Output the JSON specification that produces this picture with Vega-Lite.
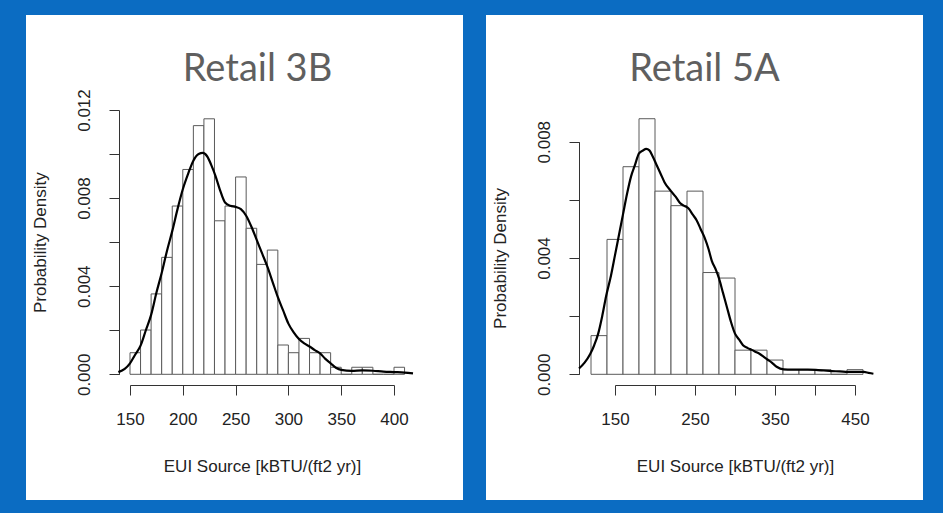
{
  "$schema": "https://vega.github.io/schema/vega-lite/v6.json",
  "background": "#0b6cc2",
  "padding": {"left": 26, "top": 15, "right": 20, "bottom": 13},
  "spacing": 23,
  "config": {
    "view": {"fill": "white", "stroke": null},
    "axis": {
      "grid": false,
      "domainColor": "#333",
      "tickColor": "#333",
      "tickSize": 10,
      "labelFont": "Liberation Sans",
      "labelFontSize": 17,
      "labelColor": "#222",
      "labelFlush": false,
      "labelOverlap": false,
      "titleFont": "Liberation Sans",
      "titleFontSize": 17,
      "titleFontWeight": "normal",
      "titleColor": "#222"
    },
    "title": {"font": "Lato", "fontSize": 38, "fontWeight": "normal", "color": "#5f5f5f", "frame": "group", "anchor": "middle", "baseline": "alphabetic", "offset": -74}
  },
  "hconcat": [
    {
      "width": 437,
      "height": 485,
      "title": {"text": "Retail 3B", "dx": 13},
      "layer": [
        {
          "data": {"values": [
            {"lo": 150, "hi": 160, "density": 0.00098},
            {"lo": 160, "hi": 170, "density": 0.00201},
            {"lo": 170, "hi": 180, "density": 0.00365},
            {"lo": 180, "hi": 190, "density": 0.00531},
            {"lo": 190, "hi": 200, "density": 0.00764},
            {"lo": 200, "hi": 210, "density": 0.0093},
            {"lo": 210, "hi": 220, "density": 0.01129},
            {"lo": 220, "hi": 230, "density": 0.0116},
            {"lo": 230, "hi": 240, "density": 0.00697},
            {"lo": 240, "hi": 250, "density": 0.00764},
            {"lo": 250, "hi": 260, "density": 0.00896},
            {"lo": 260, "hi": 270, "density": 0.00663},
            {"lo": 270, "hi": 280, "density": 0.00499},
            {"lo": 280, "hi": 290, "density": 0.00564},
            {"lo": 290, "hi": 300, "density": 0.00133},
            {"lo": 300, "hi": 310, "density": 0.00098},
            {"lo": 310, "hi": 320, "density": 0.00163},
            {"lo": 320, "hi": 330, "density": 0.00098},
            {"lo": 330, "hi": 340, "density": 0.00098},
            {"lo": 340, "hi": 350, "density": 0.00032},
            {"lo": 350, "hi": 360, "density": 0},
            {"lo": 360, "hi": 370, "density": 0.00032},
            {"lo": 370, "hi": 380, "density": 0.00032},
            {"lo": 380, "hi": 390, "density": 0},
            {"lo": 390, "hi": 400, "density": 0},
            {"lo": 400, "hi": 410, "density": 0.00032}
          ]},
          "mark": {"type": "rect", "fill": "white", "stroke": "#5a5a5a", "strokeWidth": 1},
          "encoding": {
            "x": {"field": "lo", "type": "quantitative",
              "scale": {"domain": [150, 400], "range": [104, 368], "nice": false, "zero": false},
              "axis": {"title": "EUI Source [kBTU/(ft2 yr)]", "offset": -115, "values": [150, 200, 250, 300, 350, 400], "labelBaseline": "middle", "labelPadding": 24, "titleY": 81, "titleBaseline": "middle"}},
            "x2": {"field": "hi"},
            "y": {"field": "density", "type": "quantitative",
              "scale": {"domain": [0, 0.012], "range": [359.3, 95], "nice": false, "zero": false},
              "axis": {"title": "Probability Density", "offset": -93, "values": [0, 0.002, 0.004, 0.006, 0.008, 0.01, 0.012],
                "labelExpr": "round(datum.value*500) % 2 === 0 ? format(datum.value, '.3f') : ''",
                "labelAngle": -90, "labelAlign": "center", "labelBaseline": "middle", "labelPadding": 24.5,
                "titleX": -79, "titleBaseline": "middle", "titleAngle": -90}},
            "y2": {"datum": 0}
          }
        },
        {
          "data": {"values": [
            {"eui": 139, "density": 0.0001},
            {"eui": 145, "density": 0.00025},
            {"eui": 150, "density": 0.0005},
            {"eui": 155, "density": 0.0009},
            {"eui": 160, "density": 0.0013},
            {"eui": 165, "density": 0.002},
            {"eui": 170, "density": 0.0027},
            {"eui": 175, "density": 0.0037},
            {"eui": 180, "density": 0.0046},
            {"eui": 185, "density": 0.0056},
            {"eui": 190, "density": 0.0065},
            {"eui": 195, "density": 0.0075},
            {"eui": 200, "density": 0.0084},
            {"eui": 205, "density": 0.0091},
            {"eui": 210, "density": 0.0097},
            {"eui": 215, "density": 0.01},
            {"eui": 219, "density": 0.01005},
            {"eui": 223, "density": 0.0099},
            {"eui": 227, "density": 0.0095},
            {"eui": 231, "density": 0.009},
            {"eui": 235, "density": 0.0084},
            {"eui": 240, "density": 0.0078},
            {"eui": 245, "density": 0.00765},
            {"eui": 250, "density": 0.0076},
            {"eui": 255, "density": 0.0075},
            {"eui": 260, "density": 0.0072},
            {"eui": 265, "density": 0.0067},
            {"eui": 270, "density": 0.0061},
            {"eui": 275, "density": 0.0055},
            {"eui": 280, "density": 0.0049},
            {"eui": 285, "density": 0.0042},
            {"eui": 290, "density": 0.0035},
            {"eui": 295, "density": 0.0029},
            {"eui": 300, "density": 0.0023},
            {"eui": 305, "density": 0.0019},
            {"eui": 310, "density": 0.0016},
            {"eui": 315, "density": 0.0014},
            {"eui": 320, "density": 0.00126},
            {"eui": 325, "density": 0.0011},
            {"eui": 330, "density": 0.00095},
            {"eui": 335, "density": 0.0007},
            {"eui": 340, "density": 0.0005},
            {"eui": 345, "density": 0.0003},
            {"eui": 350, "density": 0.0002},
            {"eui": 360, "density": 0.00016},
            {"eui": 370, "density": 0.00018},
            {"eui": 380, "density": 0.00016},
            {"eui": 390, "density": 0.00012},
            {"eui": 400, "density": 0.0001},
            {"eui": 410, "density": 0.00008},
            {"eui": 418, "density": 0.00004}
          ]},
          "mark": {"type": "line", "color": "black", "strokeWidth": 2.2, "interpolate": "monotone"},
          "encoding": {
            "x": {"field": "eui", "type": "quantitative"},
            "y": {"field": "density", "type": "quantitative"}
          }
        }
      ]
    },
    {
      "width": 437,
      "height": 485,
      "title": {"text": "Retail 5A"},
      "layer": [
        {
          "data": {"values": [
            {"lo": 120, "hi": 140, "density": 0.00133},
            {"lo": 140, "hi": 160, "density": 0.00464},
            {"lo": 160, "hi": 180, "density": 0.00714},
            {"lo": 180, "hi": 200, "density": 0.00879},
            {"lo": 200, "hi": 220, "density": 0.0063},
            {"lo": 220, "hi": 240, "density": 0.0058},
            {"lo": 240, "hi": 260, "density": 0.0063},
            {"lo": 260, "hi": 280, "density": 0.0035},
            {"lo": 280, "hi": 300, "density": 0.00331},
            {"lo": 300, "hi": 320, "density": 0.00083},
            {"lo": 320, "hi": 340, "density": 0.00083},
            {"lo": 340, "hi": 360, "density": 0.00049},
            {"lo": 360, "hi": 380, "density": 0.00016},
            {"lo": 380, "hi": 400, "density": 0.00016},
            {"lo": 400, "hi": 420, "density": 0.00016},
            {"lo": 420, "hi": 440, "density": 0},
            {"lo": 440, "hi": 460, "density": 0.00016}
          ]},
          "mark": {"type": "rect", "fill": "white", "stroke": "#5a5a5a", "strokeWidth": 1},
          "encoding": {
            "x": {"field": "lo", "type": "quantitative",
              "scale": {"domain": [150, 450], "range": [129, 369], "nice": false, "zero": false},
              "axis": {"title": "EUI Source [kBTU/(ft2 yr)]", "offset": -115, "values": [150, 200, 250, 300, 350, 400, 450],
                "labelExpr": "datum.value % 100 === 50 ? datum.label : ''",
                "labelBaseline": "middle", "labelPadding": 24, "titleY": 81, "titleBaseline": "middle"}},
            "x2": {"field": "hi"},
            "y": {"field": "density", "type": "quantitative",
              "scale": {"domain": [0, 0.008], "range": [359.3, 126.7], "nice": false, "zero": false},
              "axis": {"title": "Probability Density", "offset": -93, "values": [0, 0.002, 0.004, 0.006, 0.008],
                "labelExpr": "round(datum.value*500) % 2 === 0 ? format(datum.value, '.3f') : ''",
                "labelAngle": -90, "labelAlign": "center", "labelBaseline": "middle", "labelPadding": 24.5,
                "titleX": -79, "titleBaseline": "middle", "titleAngle": -90}},
            "y2": {"datum": 0}
          }
        },
        {
          "data": {"values": [
            {"eui": 105, "density": 0.0002},
            {"eui": 112, "density": 0.0004},
            {"eui": 119, "density": 0.0007},
            {"eui": 124, "density": 0.001},
            {"eui": 129, "density": 0.0014},
            {"eui": 134, "density": 0.002},
            {"eui": 139, "density": 0.0027},
            {"eui": 145, "density": 0.0034},
            {"eui": 150, "density": 0.0041},
            {"eui": 155, "density": 0.0048},
            {"eui": 160, "density": 0.0055},
            {"eui": 165, "density": 0.0062},
            {"eui": 170, "density": 0.0068},
            {"eui": 175, "density": 0.0072},
            {"eui": 180, "density": 0.0076},
            {"eui": 185, "density": 0.0077},
            {"eui": 189, "density": 0.00775},
            {"eui": 193, "density": 0.0077},
            {"eui": 197, "density": 0.0075},
            {"eui": 202, "density": 0.0072},
            {"eui": 207, "density": 0.0069},
            {"eui": 212, "density": 0.0066},
            {"eui": 220, "density": 0.0063},
            {"eui": 226, "density": 0.0061},
            {"eui": 231, "density": 0.0059},
            {"eui": 236, "density": 0.0058},
            {"eui": 242, "density": 0.0057},
            {"eui": 247, "density": 0.0055},
            {"eui": 252, "density": 0.0053},
            {"eui": 257, "density": 0.005},
            {"eui": 262, "density": 0.0047},
            {"eui": 267, "density": 0.0043},
            {"eui": 271, "density": 0.0039},
            {"eui": 276, "density": 0.0036},
            {"eui": 280, "density": 0.0033},
            {"eui": 285, "density": 0.0028},
            {"eui": 290, "density": 0.0023},
            {"eui": 295, "density": 0.0018},
            {"eui": 300, "density": 0.0014},
            {"eui": 305, "density": 0.0012},
            {"eui": 310, "density": 0.001},
            {"eui": 316, "density": 0.0009},
            {"eui": 321, "density": 0.00084},
            {"eui": 326, "density": 0.00077},
            {"eui": 331, "density": 0.0007},
            {"eui": 336, "density": 0.0006},
            {"eui": 341, "density": 0.0005},
            {"eui": 346, "density": 0.0004},
            {"eui": 352, "density": 0.00026},
            {"eui": 361, "density": 0.00017},
            {"eui": 371, "density": 0.00016},
            {"eui": 381, "density": 0.00016},
            {"eui": 391, "density": 0.00016},
            {"eui": 401, "density": 0.00015},
            {"eui": 411, "density": 0.00013},
            {"eui": 421, "density": 0.00011},
            {"eui": 431, "density": 0.0001},
            {"eui": 441, "density": 0.00008},
            {"eui": 451, "density": 0.00008},
            {"eui": 461, "density": 0.00008},
            {"eui": 467, "density": 0.00005},
            {"eui": 473, "density": 0.00002}
          ]},
          "mark": {"type": "line", "color": "black", "strokeWidth": 2.2, "interpolate": "monotone"},
          "encoding": {
            "x": {"field": "eui", "type": "quantitative"},
            "y": {"field": "density", "type": "quantitative"}
          }
        }
      ]
    }
  ]
}
